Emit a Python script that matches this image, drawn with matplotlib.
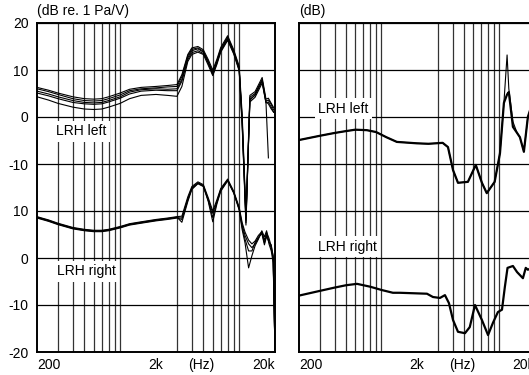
import numpy as np
import matplotlib.pyplot as plt
from matplotlib.ticker import LogLocator, NullFormatter, FixedLocator, FixedFormatter

plt.rcParams["font.family"] = ["Liberation Sans", "DejaVu Sans"]
plt.rcParams["font.size"] = 10

# --- data (dB) ---
# left panel, upper group "LRH left" (drawn as is)
freq_ul = [200, 250, 300, 400, 500, 600, 700, 800, 1000, 1200, 1500, 2000, 2500, 3000, 3300,
           3700, 4000, 4500, 5000, 5500, 6000, 6500, 7000, 8000, 9000, 10000, 10600, 11400,
           12300, 13600, 15600, 16800, 17600, 18500, 19500]
ul_a = [6.3, 5.7, 5.1, 4.3, 3.9, 3.8, 3.9, 4.3, 5.1, 5.9, 6.3, 6.5, 6.7, 6.9, 9.0,
        13.3, 14.7, 15.0, 14.3, 12.2, 10.0, 12.3, 14.8, 17.3, 14.3, 10.8, 0.5, -21.0,
        4.6, 5.4, 8.4, 3.8, 4.0, 3.0, 2.0]
ul_b = [6.0, 5.4, 4.8, 3.9, 3.5, 3.4, 3.5, 3.9, 4.7, 5.6, 6.0, 6.2, 6.4, 6.5, 8.6,
        13.0, 14.4, 14.7, 14.0, 11.8, 9.5, 11.9, 14.5, 17.0, 14.0, 10.5, -1.0, -22.5,
        4.2, 5.0, 8.0, 3.4, 3.6, 2.8, 1.5]
ul_c = [5.5, 4.9, 4.3, 3.5, 3.1, 3.0, 3.1, 3.5, 4.3, 5.3, 5.8, 6.0, 5.9, 6.0, 8.0,
        12.6, 14.1, 14.5, 13.8, 11.4, 9.0, 11.5, 14.2, 16.8, 13.8, 10.2, -2.0, -23.0,
        3.8, 4.6, 7.6, 3.0, 3.2, 2.2, 1.0]
ul_d = [5.1, 4.5, 3.9, 3.1, 2.8, 2.7, 2.8, 3.2, 4.0, 4.9, 5.5, 5.7, 5.6, 5.6, 7.6,
        12.2, 13.7, 14.1, 13.5, 11.6, 9.3, 11.7, 14.0, 16.5, 13.6, 10.0, -0.5, -21.5,
        3.5, 4.8, 7.8, 3.2, 2.8, 1.8, 1.0]
ul_e = [4.3, 3.6, 2.9, 2.1, 1.7, 1.6, 1.7, 2.1, 2.9, 3.9, 4.6, 4.8, 4.6, 4.4, 6.5,
        11.8, 13.3, 13.8, 13.3, 11.0, 8.8, 11.2, 13.8, 16.3, 13.4, 9.8, -1.5, -22.0,
        3.2, 4.2, 7.2, 3.0, -8.7, np.nan, np.nan]

# left panel, lower group "LRH right" (own scale, drawn 30 dB lower)
freq_ll = [200, 250, 300, 400, 500, 600, 700, 800, 1000, 1200, 1500, 2000, 2500, 3000, 3300,
           3700, 4000, 4500, 5000, 5500, 6000, 6500, 7000, 8000, 9000, 10000, 10600, 11200,
           12000, 12800, 13600, 14500, 15500, 16300, 17000, 17800, 18600, 19300, 20000]
ll_a = [8.8, 8.1, 7.4, 6.5, 6.1, 5.9, 5.9, 6.1, 6.7, 7.3, 7.7, 8.2, 8.5, 8.8, 8.9,
        13.0, 15.2, 16.2, 15.6, 12.8, 10.0, 12.4, 14.8, 16.8, 14.2, 10.8, 7.5, 5.5,
        3.8, 3.0, 3.6, 4.8, 5.6, 3.8, 5.5, 4.2, 2.5, 0.5, -20]
ll_b = [8.6, 7.9, 7.2, 6.3, 5.9, 5.7, 5.7, 5.9, 6.5, 7.1, 7.5, 8.0, 8.3, 8.6, 8.5,
        12.6, 14.9, 16.0, 15.4, 12.4, 9.5, 12.0, 14.6, 16.6, 14.0, 10.5, 7.0, 4.8,
        3.0, 2.2, 3.0, 4.2, 5.4, 3.2, 5.0, 3.6, 2.0, 0.0, -20]
ll_c = [8.7, 8.0, 7.3, 6.4, 6.0, 5.8, 5.8, 6.0, 6.6, 7.2, 7.6, 8.1, 8.4, 8.7, 7.6,
        12.0, 14.6, 15.8, 15.2, 12.0, 7.7, 11.5, 14.2, 16.4, 13.8, 10.2, 6.0, 3.2,
        -2.1, 0.5, 2.6, 4.0, 5.8, 4.5, 5.8, 3.0, 1.5, -1.0, -20]
ll_d = [8.5, 7.8, 7.1, 6.2, 5.8, 5.6, 5.6, 5.8, 6.4, 7.0, 7.4, 7.9, 8.2, 8.5, 8.2,
        12.3, 14.7, 15.9, 15.3, 12.2, 8.6, 11.8, 14.4, 16.5, 13.9, 10.4, 6.5, 4.0,
        1.5, 1.5, 3.3, 4.4, 5.2, 2.8, 4.6, 3.3, 2.8, 0.2, -20]

# right panel, upper "LRH left"
freq_ur = [200, 300, 400, 500, 600, 750, 900, 1100, 1350, 2000, 2500, 3300, 3660, 4040,
           4450, 5400, 6300, 7100, 7800, 9100, 10100, 10900, 11600, 12000, 13000, 14100,
           14900, 16100, 17400, 19000]
ur_thick = [-4.9, -4.0, -3.4, -3.0, -2.7, -2.8, -3.2, -4.3, -5.3, -5.6, -5.7, -5.5, -6.4,
            -11.3, -14.0, -13.8, -10.2, -14.0, -16.2, -13.8, -7.7, 3.0, 4.8, 5.3, -2.1,
            -3.4, -4.3, -7.4, 0.0, 3.0]
ur_thin = [-4.9, -4.0, -3.4, -3.0, -2.7, -2.8, -3.2, -4.3, -5.3, -5.6, -5.7, -5.5, -6.4,
           -11.3, -14.0, -13.8, -10.2, -14.0, -16.2, -13.8, -7.7, 3.0, 13.2, 6.0, -1.0,
           -3.4, -4.3, -7.4, 0.0, 3.0]

# right panel, lower "LRH right" (own scale, drawn 30 dB lower)
freq_lr = [200, 300, 400, 500, 620, 800, 1000, 1250, 1430, 2430, 2730, 3130, 3450, 3730,
           4040, 4450, 5100, 5600, 6200, 7100, 8000, 8800, 9700, 10500, 11100, 11700, 13000,
           14100, 15800, 16700, 17400, 19000]
lr_vals = [-8.0, -7.0, -6.3, -5.8, -5.5, -6.1, -6.8, -7.4, -7.4, -7.6, -8.3, -8.5, -7.9,
           -9.6, -13.2, -15.7, -16.0, -14.7, -10.0, -13.2, -16.4, -13.8, -11.5, -11.0, -6.2,
           -2.1, -1.7, -3.0, -4.3, -2.1, -2.5, -2.0]

offset = 30
yticks = [20, 10, 0, -10, -20, -30, -40, -50]
ytick_labels = ["20", "10", "0", "-10", "10", "0", "-10", "-20"]
xticks = [200, 2000, 4800, 20000]
xtick_labels = ["200", "2k", "(Hz)", "20k"]


def setup_axes(ax, show_ylabels):
    ax.set_xscale("log")
    ax.set_xlim(200, 20000)
    ax.set_ylim(-50, 20)
    ax.xaxis.set_major_locator(FixedLocator(xticks))
    ax.xaxis.set_major_formatter(FixedFormatter(xtick_labels))
    ax.xaxis.set_minor_locator(LogLocator(base=10, subs=np.arange(1, 10)))
    ax.xaxis.set_minor_formatter(NullFormatter())
    ax.set_yticks(yticks)
    if show_ylabels:
        ax.set_yticklabels(ytick_labels)
    else:
        ax.set_yticklabels([])
    ax.tick_params(which="both", length=0)
    ax.tick_params(axis="y", pad=6)
    ax.tick_params(axis="x", pad=4)
    labels = ax.get_xticklabels()
    labels[0].set_horizontalalignment("left")
    labels[-1].set_horizontalalignment("right")
    ax.grid(which="minor", axis="x", color="#333333", lw=0.9)
    ax.grid(which="major", axis="y", color="black", lw=0.9)
    ax.set_axisbelow(True)
    for sp in ax.spines.values():
        sp.set_linewidth(1.4)


fig = plt.figure(figsize=(5.29, 3.75), dpi=100)
ax1 = fig.add_axes([37 / 529, 23 / 375, 238 / 529, 329 / 375])
ax2 = fig.add_axes([299 / 529, 23 / 375, 236 / 529, 329 / 375])
setup_axes(ax1, True)
setup_axes(ax2, False)

for vals in [ul_a, ul_b, ul_c, ul_d, ul_e]:
    ax1.plot(freq_ul, vals, color="black", lw=0.8)
for vals in [ll_a, ll_b, ll_c, ll_d]:
    ax1.plot(freq_ll, np.array(vals) - offset, color="black", lw=0.8)

ax2.plot(freq_ur, ur_thin, color="black", lw=0.8)
ax2.plot(freq_ur, ur_thick, color="black", lw=1.6)
ax2.plot(freq_lr, np.array(lr_vals) - offset, color="black", lw=1.6)

box = dict(facecolor="white", edgecolor="none", boxstyle="square,pad=0.25")
ax1.text(290, -3.0, "LRH left", ha="left", va="center", bbox=box, zorder=3)
ax1.text(295, -32.8, "LRH right", ha="left", va="center", bbox=box, zorder=3)
ax2.text(290, 1.8, "LRH left", ha="left", va="center", bbox=box, zorder=3)
ax2.text(290, -27.6, "LRH right", ha="left", va="center", bbox=box, zorder=3)

ax1.text(0.0, 1.035, "(dB re. 1 Pa/V)", transform=ax1.transAxes, ha="left", va="center")
ax2.text(0.0, 1.035, "(dB)", transform=ax2.transAxes, ha="left", va="center")

fig.savefig("out.png", dpi=100)
